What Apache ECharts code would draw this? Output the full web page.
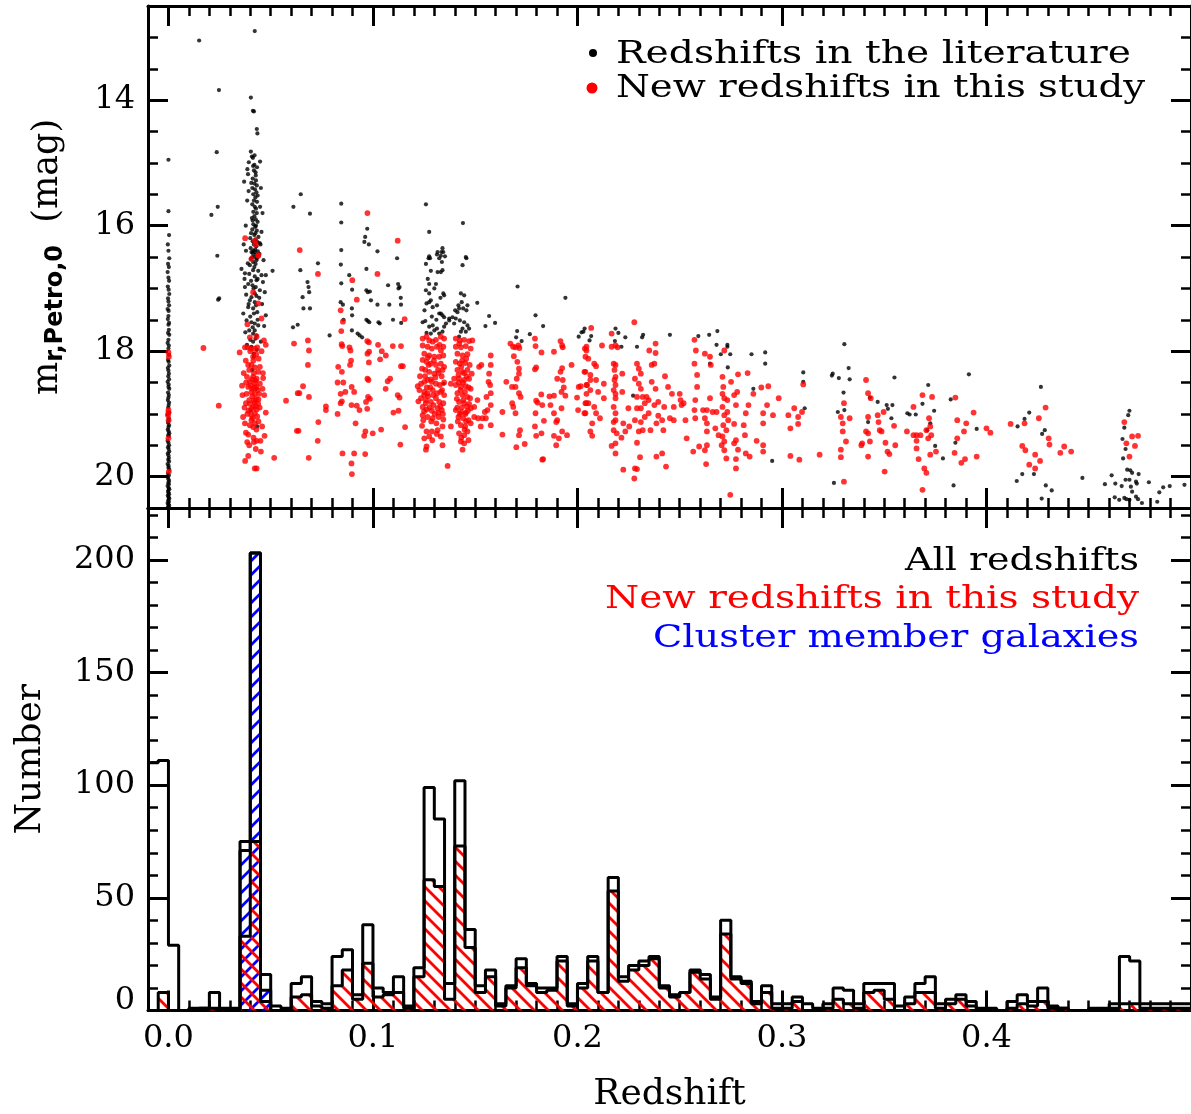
<!DOCTYPE html>
<html><head><meta charset="utf-8">
<script src="https://cdn.jsdelivr.net/npm/echarts@6/dist/echarts.min.js"></script>
<style>html,body{margin:0;padding:0;background:#fff}#c{width:1191px;height:1114px}</style>
</head><body><div id="c"></div>
<script>
// ---------------- DATA ----------------
// Histogram: bins of width 0.005 starting at z = -0.01
const binStart = -0.01, binWidth = 0.005;
const allCounts = [110,111,29,0,1,1,8,1,1,75,203,16,2,1,12,15,4,3,24,27,7,38,10,8,15,2,19,99,85,12,102,36,11,18,3,11,23,12,10,10,24,3,12,24,8,59,15,20,22,24,11,7,8,18,16,6,40,15,13,4,11,3,3,6,3,1,3,10,9,3,12,12,12,2,6,12,15,3,5,7,4,1,1,0,4,7,4,10,2,1,0,0,1,1,3,24,22,3,3,3,3,3];
const newCounts = [0,8,0,0,0,1,1,0,0,33,75,4,0,0,6,7,2,1,11,18,5,21,6,7,8,1,15,58,55,5,73,28,8,15,2,10,19,11,8,9,22,2,10,22,8,53,13,18,20,23,10,6,8,17,14,5,34,14,12,3,8,1,1,4,0,0,1,5,3,1,8,9,5,0,3,8,8,1,3,5,2,0,0,0,1,3,2,4,1,1,0,0,0,0,1,3,3,1,1,1,1,1];
const memberCounts = [0,0,0,0,0,0,0,0,0,71,203,9,0,0,0,0,0,0,0,0,0,0,0,0,0,0,0,0,0,0,0,0,0,0,0,0,0,0,0,0,0,0,0,0,0,0,0,0,0,0,0,0,0,0,0,0,0,0,0,0,0,0,0,0,0,0,0,0,0,0,0,0,0,0,0,0,0,0,0,0,0,0,0,0,0,0,0,0,0,0,0,0,0,0,0,0,0,0,0,0,0,0];

// Tick values / labels
const zMajor = [0, 0.1, 0.2, 0.3, 0.4];
const magMajor = [14, 16, 18, 20];
const numMajor = [0, 50, 100, 150, 200];

// Scatter: [redshift, magnitude]; literature (black)
const litStars = [[0.0000,14.95],[0.0000,15.77],[0.0003,16.15],[-0.0003,16.3],[0.0000,16.40],[0.0004,16.52],[-0.0002,16.61],[0.0002,16.66],[-0.0004,16.74],[0.0000,16.83],[0.0003,16.88],[-0.0003,16.97],[0.0001,17.02],[0.0004,17.09],[-0.0002,17.16],[0.0000,17.21],[0.0003,17.27],[-0.0004,17.33],[0.0001,17.36],[0.0000,17.44],[-0.0003,17.49],[0.0003,17.55],[0.0000,17.58],[0.0002,17.66],[-0.0002,17.71],[0.0004,17.74],[0.0000,17.82],[-0.0004,17.87],[0.0002,17.91],[0.0000,17.96],[0.0003,18.06],[-0.0002,18.14],[0.0001,18.17],[0.0004,18.23],[-0.0003,18.27],[0.0000,18.31],[0.0002,18.36],[-0.0001,18.4],[0.0003,18.45],[-0.0004,18.49],[0.0001,18.53],[0.0000,18.57],[0.0004,18.6],[-0.0002,18.66],[0.0002,18.7],[0.0000,18.74],[-0.0003,18.78],[0.0003,18.82],[0.0001,18.86],[-0.0001,18.9],[0.0004,18.98],[-0.0004,19.01],[0.0002,19.07],[0.0000,19.11],[-0.0002,19.14],[0.0003,19.18],[0.0000,19.21],[-0.0003,19.25],[0.0001,19.28],[0.0004,19.31],[-0.0001,19.34],[0.0002,19.36],[-0.0004,19.43],[0.0000,19.46],[0.0003,19.5],[-0.0002,19.53],[0.0001,19.56],[0.0004,19.6],[-0.0003,19.63],[0.0000,19.66],[0.0002,19.7],[-0.0001,19.73],[0.0003,19.76],[-0.0004,19.8],[0.0001,19.83],[0.0000,19.86],[0.0004,19.89],[-0.0002,19.95],[0.0002,19.98],[-0.0003,20.01],[0.0000,20.04],[0.0003,20.07],[-0.0001,20.1],[0.0002,20.12],[-0.0004,20.15],[0.0001,20.18],[0.0004,20.2],[-0.0002,20.23],[0.0000,20.25],[0.0003,20.28],[-0.0003,20.3],[0.0001,20.33],[0.0004,20.35],[-0.0001,20.38],[0.0002,20.4],[-0.0004,20.42],[0.0000,20.44],[0.0003,20.46],[-0.0002,20.48],[0.0001,20.49]];
const litLow = [[0.0150,13.05],[0.0247,13.84],[0.0236,14.83],[0.0241,15.7],[0.0210,15.83],[0.0239,16.48],[0.0243,17.18],[0.0248,17.16],
[0.0422,12.9],[0.0403,13.96],[0.0413,14.17],[0.0418,14.18],[0.0432,14.46],[0.0435,14.53],[0.0403,14.82],[0.0408,14.9],[0.0413,14.92],[0.0421,14.88],[0.0393,14.99],[0.0420,15.03],[0.0433,15.07],[0.0448,14.98],[0.0386,15.1],[0.0389,15.18],[0.0418,15.12],[0.0426,15.15],[0.0412,15.25],[0.0428,15.28],[0.0420,15.33],[0.0432,15.36],[0.0410,15.4],[0.0423,15.42],[0.0430,15.47],[0.0415,15.5],[0.0425,15.55],[0.0418,15.6],[0.0433,15.62],[0.0410,15.66],[0.0422,15.7],[0.0428,15.73],[0.0415,15.78],[0.0432,15.8],[0.0420,15.85],[0.0408,15.88],[0.0427,15.9],[0.0436,15.94],[0.0415,15.98],[0.0424,16.02],[0.0410,16.06],[0.0432,16.08],[0.0404,16.12],[0.0420,16.15],[0.0440,16.18],[0.0426,16.22],[0.0412,16.25],[0.0446,16.28],[0.0418,16.3],[0.0430,16.33],[0.0402,16.36],[0.0424,16.38],[0.0437,16.41],[0.0412,16.44],[0.0428,16.46],[0.0418,16.5],[0.0433,16.52],[0.0445,16.45],
[0.0414,15.05],[0.0427,15.2],[0.0405,15.32],[0.0436,15.52],[0.0412,15.92],[0.0428,16.0],[0.0400,16.2],[0.0434,16.26],[0.0415,16.4],[0.0425,16.12],
[0.0370,15.3],[0.0385,15.6],[0.0452,15.4],[0.0460,15.8],[0.0378,16.0],[0.0455,16.1],[0.0368,16.3],[0.0465,16.55],[0.0372,16.85],[0.0462,16.9],[0.0380,17.1],[0.0458,17.25],[0.0366,17.4],[0.0468,17.6],[0.0384,17.9],[0.0452,17.85],[0.0392,15.45],[0.0448,15.7],[0.0388,16.6],[0.0450,16.3],[0.0376,17.7],[0.0444,17.15],
[0.0379,16.4],[0.0406,16.42],[0.0422,16.42],[0.0434,16.48],[0.0403,16.53],[0.0414,16.58],[0.0426,16.61],[0.0357,16.69],[0.0374,16.76],[0.0395,16.77],[0.0414,16.71],[0.0439,16.72],[0.0422,16.81],[0.0455,16.79],[0.0476,16.79],[0.0431,16.87],[0.0390,16.93],[0.0411,16.95],[0.0427,16.98],[0.0374,16.98],[0.0447,17.03],[0.0471,17.06],[0.0422,17.08],[0.0398,17.19],[0.0422,17.22],[0.0390,17.3],[0.0414,17.32],[0.0434,17.38],[0.0476,17.43],[0.0382,17.51],[0.0406,17.54],[0.0422,17.56],[0.0439,17.59],[0.0422,17.67],[0.0395,17.67],[0.0414,17.72],[0.0431,17.75],[0.0414,17.85],[0.0406,17.93],[0.0418,18.04],[0.0418,18.09],
[0.0410,16.5],[0.0430,16.55],[0.0398,16.63],[0.0420,16.66],[0.0436,16.85],[0.0404,16.88],[0.0416,17.0],[0.0430,17.12],[0.0406,17.14],[0.0392,17.25],[0.0428,17.27],[0.0418,17.4],[0.0400,17.45],[0.0436,17.5],[0.0412,17.62],[0.0426,17.8],[0.0400,17.82],[0.0432,17.98],[0.0410,18.3],[0.0428,18.6],[0.0402,18.95],[0.0434,19.2],
[0.0647,15.5],[0.0611,15.7],[0.0692,15.81],[0.0645,16.71],[0.0509,16.72],[0.0656,17.14],[0.0660,17.32],[0.0692,17.32],[0.0680,16.9],[0.0685,16.98],[0.0688,17.06],[0.0731,16.6],[0.0609,17.62],[0.0632,17.58]];
const litMid = [[0.0845,15.65],[0.0845,15.95],[0.0845,16.39],[0.0972,16.05],[0.0962,16.18],[0.0958,16.26],[0.0980,16.3],[0.1022,16.41],[0.1118,16.52],[0.0788,17.75],[0.0843,16.62],[0.0845,16.92],[0.0842,17.22],[0.0853,17.26],[0.0856,17.5],[0.0884,16.79],[0.0898,17.02],[0.0897,17.32],[0.0898,17.43],[0.0897,17.67],[0.0925,17.72],[0.0935,17.75],[0.0947,17.78],[0.0968,16.69],[0.0968,17.03],[0.0975,17.06],[0.0985,17.05],[0.0990,17.19],[0.0968,17.5],[0.0982,17.54],[0.0975,17.52],[0.1022,17.26],[0.1027,17.54],[0.1033,17.56],[0.1074,16.95],[0.1080,17.26],[0.1098,17.5],[0.1123,16.93],[0.1130,16.98],[0.1125,17.0],[0.1136,17.15],[0.1137,17.26],[0.1138,17.55],
[0.1259,15.66],[0.1275,16.1],[0.1313,16.46],[0.1324,16.52],[0.1335,16.42],[0.1340,16.36],[0.1352,16.49],[0.1275,16.49],[0.1272,16.52],[0.1279,16.52],[0.1316,16.42],[0.1332,16.48],[0.1337,16.58],[0.1344,16.42],[0.1259,16.61],[0.1283,16.72],[0.1308,16.93],[0.1316,16.74],[0.1332,16.74],[0.1340,16.71],[0.1275,16.93],[0.1259,17.03],[0.1275,17.08],[0.1262,17.24],[0.1275,17.22],[0.1283,17.19],[0.1292,17.3],[0.1313,17.27],[0.1324,17.4],[0.1340,17.43],[0.1348,17.46],[0.1243,17.54],[0.1256,17.52],[0.1275,17.61],[0.1292,17.59],[0.1313,17.64],[0.1324,17.72],[0.1340,17.69],[0.1348,17.61],[0.1357,17.56],[0.1300,17.67],[0.1262,17.71],[0.1283,17.72],[0.1344,17.08],[0.1348,17.11],[0.1332,17.4],[0.1373,17.48],[0.1389,17.46],[0.1345,18.52],[0.1268,16.85],[0.1300,17.0],[0.1288,17.45],[0.1330,17.15],[0.1252,17.35],[0.1310,17.5],
[0.1440,15.96],[0.1457,16.52],[0.1438,16.63],[0.1454,16.5],[0.1430,17.08],[0.1446,17.11],[0.1434,17.22],[0.1418,17.27],[0.1402,17.35],[0.1413,17.38],[0.1421,17.32],[0.1441,17.32],[0.1457,17.35],[0.1462,17.27],[0.1405,17.48],[0.1425,17.51],[0.1446,17.54],[0.1462,17.59],[0.1470,17.64],[0.1438,17.64],[0.1430,17.69],[0.1454,17.69],[0.1421,17.77],[0.1397,17.56],[0.1373,17.51],[0.1510,17.23],[0.1568,17.44],[0.1550,17.6],[0.1597,17.55],
[0.1707,16.97],[0.1705,17.68],[0.1700,17.78],[0.1727,17.84],[0.1767,17.73],[0.1795,17.43],[0.1832,17.6],[0.1941,17.15],[0.2020,17.7],[0.2035,17.64]];
const litHigh = [[0.2006,17.77],[0.2029,17.69],[0.2059,17.83],[0.2067,17.76],[0.2186,17.64],[0.2200,17.71],[0.2183,17.84],[0.2215,17.93],[0.2234,17.78],[0.2291,17.93],[0.2316,17.78],[0.2321,17.74],[0.2452,17.74],[0.2272,18.71],[0.2591,17.76],[0.2644,17.74],[0.2684,17.68],[0.2680,17.9],[0.2733,17.9],[0.2733,17.93],[0.2701,18.05],[0.2747,18.05],[0.2648,18.2],[0.2735,18.26],[0.2851,18.05],[0.2918,18.02],[0.2918,18.2],[0.2860,18.6],[0.2952,19.75],[0.3104,18.34],[0.3104,18.49],[0.3111,18.91],[0.3305,17.89],[0.3248,18.36],[0.3244,18.39],[0.3278,18.43],[0.3326,18.27],[0.3331,18.45],[0.3301,18.66],[0.3305,18.94],[0.3273,18.97],[0.3254,20.1],[0.3430,18.74],[0.3468,18.81],[0.3512,18.86],[0.3518,18.92],[0.3421,19.13],[0.3535,19.07],[0.3540,18.86],[0.3550,18.42],[0.3613,18.99],[0.3624,19.01],[0.3654,19.01],[0.3687,18.84],[0.3715,18.54],[0.3725,19.15],[0.3710,19.26],[0.3744,18.95],[0.3749,19.51],[0.3787,19.71],[0.3825,18.77],[0.3839,20.14],[0.3848,19.46],[0.3914,18.37],[0.3952,19.24],[0.4148,20.07],[0.4152,19.2],[0.4186,19.08],[0.4209,18.98],[0.4175,19.96],[0.4232,19.96],[0.4266,18.57],[0.4272,19.32],[0.4285,19.26],[0.4270,20.35],[0.4290,20.14],[0.4319,20.22],[0.4469,20.02],[0.4579,20.12],[0.4612,19.98],[0.4630,20.11],[0.4665,19.4],[0.4680,19.56],[0.4674,19.22],[0.4693,19.02],[0.4699,18.95],[0.4668,19.71],[0.4688,19.89],[0.4703,19.9],[0.4712,19.94],[0.4744,19.96],[0.4680,20.05],[0.4699,20.05],[0.4731,20.08],[0.4661,20.15],[0.4706,20.16],[0.4735,20.11],[0.4712,20.24],[0.4731,20.32],[0.4741,20.36],[0.4760,20.42],[0.4649,20.37],[0.4674,20.34],[0.4684,20.36],[0.4699,20.37],[0.4794,20.09],[0.4835,20.4],[0.4845,20.25],[0.4864,20.17],[0.4896,20.15],[0.4968,20.13],[0.4627,20.33]];

// New redshifts (red)
const newLow = [[0.0000,18.02],[0.0002,18.09],[0.0000,18.94],[-0.0002,19.02],[0.0001,19.1],[0.0000,19.39],[0.0002,19.92],[0.0000,18.98],[0.0171,17.95],[0.0246,18.87],
[0.0406,16.53],[0.0439,16.48],[0.0414,17.06],[0.0439,17.24],[0.0455,17.48],[0.0386,17.57],[0.0398,17.78],[0.0431,17.77],[0.0467,17.83],[0.0476,17.9],[0.0374,17.94],[0.0386,17.94],[0.0403,17.96],[0.0422,17.96],[0.0434,17.94],[0.0414,18.09],[0.0390,18.22],[0.0406,18.22],[0.0422,18.26],[0.0447,18.25],[0.0439,18.33],[0.0384,18.41],[0.0414,18.41],[0.0431,18.44],[0.0463,18.43],[0.0398,18.49],[0.0422,18.51],[0.0447,18.52],[0.0390,18.57],[0.0411,18.6],[0.0431,18.57],[0.0362,18.7],[0.0382,18.68],[0.0406,18.65],[0.0422,18.68],[0.0443,18.68],[0.0379,18.83],[0.0398,18.84],[0.0422,18.82],[0.0439,18.84],[0.0414,18.89],[0.0431,18.93],[0.0476,18.98],[0.0406,19.02],[0.0422,18.99],[0.0374,19.15],[0.0406,19.1],[0.0422,19.15],[0.0414,19.21],[0.0390,19.33],[0.0379,19.3],[0.0431,19.43],[0.0450,19.43],[0.0427,19.56],[0.0390,19.67],[0.0422,19.87],[0.0431,19.87],
[0.0395,18.3],[0.0418,18.35],[0.0426,18.47],[0.0402,18.55],[0.0436,18.62],[0.0410,18.72],[0.0428,18.76],[0.0395,18.78],[0.0418,18.79],[0.0440,18.77],[0.0404,18.92],[0.0426,18.88],[0.0392,18.95],[0.0434,19.04],[0.0412,19.07],[0.0398,19.18],[0.0430,19.25],[0.0416,19.38],[0.0440,19.12],[0.0386,19.0],[0.0420,18.58],[0.0408,18.45],[0.0446,18.9],[0.0380,18.5],[0.0415,18.15],[0.0429,18.05],[0.0400,18.0],[0.0441,18.12],[0.0395,19.5],[0.0418,19.45],
[0.0368,18.35],[0.0460,18.6],[0.0372,18.9],[0.0468,18.7],[0.0365,19.05],[0.0458,19.2],[0.0378,18.15],[0.0455,18.0],[0.0470,19.35],[0.0360,18.55],[0.0462,18.35],[0.0385,19.45],[0.0452,19.6],[0.0375,19.75],
[0.0375,16.2],[0.0423,16.24],[0.0427,16.3],[0.0440,16.47],
[0.0517,19.7],[0.0348,18.02],[0.0614,17.88],[0.0731,16.77],[0.0682,17.83],[0.0687,17.99],[0.0682,18.22],[0.0658,18.56],[0.0632,18.67],[0.0640,18.67],[0.0687,18.73],[0.0575,18.79],[0.0628,19.27],[0.0636,19.27],[0.0686,19.7],[0.0733,19.13],[0.0730,19.43],[0.0770,18.88],[0.0770,18.94],[0.0827,19.0],[0.0642,16.39]];
const newMid = [[0.0973,15.8],[0.1121,16.24],[0.0842,17.35],[0.0853,17.53],[0.0845,17.68],[0.0899,16.87],[0.0921,17.18],[0.0847,17.89],[0.0850,17.92],[0.0885,17.94],[0.0890,17.99],[0.0893,18.15],[0.0888,18.22],[0.0830,18.25],[0.0848,18.33],[0.0855,18.5],[0.0865,18.65],[0.0842,18.68],[0.0896,18.57],[0.0908,18.65],[0.0842,18.83],[0.0848,18.8],[0.0895,18.86],[0.0921,18.87],[0.0934,18.94],[0.0966,18.81],[0.0976,18.73],[0.0985,18.76],[0.0915,19.15],[0.0851,19.63],[0.0908,19.63],[0.0895,19.79],[0.0897,19.96],[0.0962,19.64],[0.0963,19.28],[0.0957,19.35],[0.0972,18.92],[0.0973,18.44],[0.0978,18.46],[0.0980,18.18],[0.0973,18.04],[0.0981,18.01],[0.0972,17.84],[0.0980,17.86],[0.1022,16.77],[0.1025,17.9],[0.1035,18.13],[0.1043,18.0],[0.1063,18.07],[0.1072,18.48],[0.1084,18.44],[0.1062,18.6],[0.1040,19.25],[0.0999,19.31],[0.1097,17.92],[0.1100,18.98],[0.1125,18.95],[0.1121,18.7],[0.1130,18.74],[0.1134,19.49],[0.1137,17.92],[0.1146,18.24],[0.1137,18.24],[0.1155,17.49],[0.1157,19.21],[0.0827,18.5],
[0.1243,17.8],[0.1262,17.77],[0.1275,17.83],[0.1292,17.85],[0.1308,17.82],[0.1332,17.77],[0.1348,17.8],[0.1243,17.91],[0.1267,17.93],[0.1288,17.96],[0.1313,17.93],[0.1332,17.99],[0.1344,17.93],[0.1251,18.04],[0.1275,18.07],[0.1300,18.09],[0.1324,18.09],[0.1344,18.07],[0.1243,18.14],[0.1262,18.17],[0.1283,18.2],[0.1308,18.22],[0.1332,18.2],[0.1348,18.25],[0.1240,18.28],[0.1256,18.3],[0.1275,18.33],[0.1300,18.36],[0.1321,18.35],[0.1340,18.3],[0.1219,18.56],[0.1235,18.52],[0.1251,18.49],[0.1267,18.46],[0.1288,18.49],[0.1308,18.52],[0.1327,18.54],[0.1348,18.5],[0.1227,18.62],[0.1251,18.65],[0.1267,18.67],[0.1292,18.62],[0.1313,18.67],[0.1332,18.65],[0.1348,18.7],[0.1235,18.75],[0.1259,18.78],[0.1283,18.81],[0.1308,18.75],[0.1324,18.81],[0.1344,18.83],[0.1243,18.89],[0.1262,18.93],[0.1288,18.95],[0.1316,18.91],[0.1337,18.94],[0.1243,19.02],[0.1267,19.05],[0.1292,19.07],[0.1321,19.05],[0.1344,19.09],[0.1240,19.19],[0.1262,19.28],[0.1288,19.28],[0.1316,19.26],[0.1340,19.2],[0.1251,19.39],[0.1275,19.36],[0.1332,19.36],[0.1262,19.52],[0.1259,19.57],[0.1340,19.5],[0.1381,19.2],[0.1365,19.83],[0.1381,18.52],
[0.1255,18.4],[0.1280,18.58],[0.1305,18.42],[0.1270,18.72],[0.1296,18.86],[0.1320,18.98],[0.1250,18.7],[0.1285,19.12],[0.1310,19.15],[0.1336,18.4],[0.1230,18.4],[0.1272,18.22],[0.1318,18.3],[0.1295,18.7],[0.1263,18.58],[0.1330,18.88],[0.1250,18.96],[0.1282,18.45],[0.1302,19.0],[0.1338,18.62],[0.1246,19.1],[0.1290,19.42],[0.1312,19.32],[0.1268,18.1],[0.1326,17.9],[0.1277,18.9],[0.1298,18.15],[0.1258,18.83],[0.1342,19.0],[0.1222,18.8],
[0.1405,17.8],[0.1425,17.83],[0.1446,17.82],[0.1470,17.84],[0.1486,17.83],[0.1405,17.93],[0.1430,17.94],[0.1454,17.92],[0.1478,17.96],[0.1413,18.04],[0.1438,18.07],[0.1462,18.05],[0.1405,18.17],[0.1425,18.2],[0.1451,18.19],[0.1473,18.22],[0.1413,18.3],[0.1438,18.33],[0.1462,18.3],[0.1483,18.36],[0.1397,18.44],[0.1421,18.44],[0.1446,18.46],[0.1470,18.44],[0.1405,18.54],[0.1430,18.57],[0.1454,18.56],[0.1478,18.6],[0.1413,18.67],[0.1438,18.7],[0.1462,18.73],[0.1421,18.81],[0.1446,18.83],[0.1470,18.84],[0.1405,18.94],[0.1430,18.97],[0.1454,18.98],[0.1478,18.91],[0.1418,19.05],[0.1441,19.07],[0.1467,19.1],[0.1430,19.18],[0.1451,19.2],[0.1478,19.15],[0.1421,19.31],[0.1446,19.34],[0.1462,19.28],[0.1430,19.44],[0.1446,19.47],[0.1438,19.57],[0.1467,19.42],[0.1495,18.89],[0.1495,19.05],
[0.1418,18.38],[0.1440,18.5],[0.1458,18.4],[0.1428,18.62],[0.1450,18.65],[0.1435,18.9],[0.1460,18.88],[0.1415,19.12],[0.1452,19.0],[0.1432,18.25],[0.1456,18.12],[0.1410,18.76],[0.1442,18.78],[0.1468,18.58],[0.1425,19.0],[0.1448,19.25],[0.1436,18.15],[0.1464,18.95],[0.1420,18.5],[0.1445,18.35],[0.1412,18.9],[0.1475,18.75],[0.1432,19.38],[0.1455,19.12],[0.1422,17.88],
[0.1519,18.25],[0.1530,18.22],[0.1576,18.07],[0.1576,18.22],[0.1568,18.36],[0.1565,18.49],[0.1573,18.54],[0.1555,18.73],[0.1576,18.67],[0.1576,18.86],[0.1560,18.94],[0.1511,18.78],[0.1514,19.07],[0.1527,19.2],[0.1576,19.18],[0.1547,18.97],[0.1552,19.07],[0.1535,19.07],[0.1633,18.97],[0.1652,18.49],[0.1633,19.33],
[0.1672,17.88],[0.1685,17.93],[0.1697,17.94],[0.1711,17.91],[0.1716,17.95],[0.1689,18.08],[0.1706,18.17],[0.1714,18.28],[0.1703,18.44],[0.1697,18.57],[0.1714,18.67],[0.1722,18.73],[0.1681,18.83],[0.1686,18.89],[0.1697,18.99],[0.1719,19.26],[0.1714,19.34],[0.1701,19.53],[0.1742,19.48],[0.1680,18.57],[0.1714,18.36],
[0.1792,17.8],[0.1795,17.92],[0.1824,18.02],[0.1885,18.01],[0.1917,17.84],[0.1925,17.91],[0.1928,17.94],[0.1792,18.29],[0.1798,18.26],[0.1901,18.44],[0.1925,18.27],[0.1917,18.33],[0.1928,18.46],[0.1933,18.58],[0.1922,18.65],[0.1885,18.71],[0.1941,18.71],[0.1863,18.72],[0.1823,18.69],[0.1798,18.79],[0.1805,18.82],[0.1828,18.86],[0.1795,18.99],[0.1885,18.99],[0.1896,19.13],[0.1922,18.91],[0.1901,19.1],[0.1792,19.2],[0.1824,19.31],[0.1836,19.11],[0.1885,19.35],[0.1909,19.39],[0.1896,19.5],[0.1949,19.34],[0.1868,18.86],[0.1925,19.28],[0.1798,19.35],[0.1828,19.73],[0.1832,19.72],
[0.1971,18.22],[0.1998,18.74],[0.2006,18.57],[0.2003,18.94],[0.2036,17.96],[0.2039,18.09],[0.2039,18.33],[0.2047,18.54],[0.2044,18.68],[0.2039,18.83],[0.2039,18.99]];
const newHigh = [[0.2067,17.63],[0.2044,17.93],[0.2044,17.99],[0.2053,18.12],[0.2082,18.2],[0.2091,18.24],[0.2034,18.33],[0.2063,18.38],[0.2063,18.46],[0.2091,18.46],[0.2016,18.56],[0.2044,18.54],[0.2063,18.62],[0.2101,18.65],[0.2129,18.52],[0.2129,18.75],[0.2082,18.89],[0.2044,18.83],[0.2053,18.83],[0.2091,18.99],[0.2034,18.99],[0.2072,19.15],[0.2063,19.28],[0.2072,19.35],[0.2110,19.07],[0.2120,17.91],[0.2167,17.72],[0.2167,17.93],[0.2186,17.91],[0.2196,17.94],[0.2177,18.2],[0.2186,18.22],[0.2181,18.3],[0.2186,18.41],[0.2181,18.46],[0.2186,18.54],[0.2177,18.62],[0.2186,18.68],[0.2186,18.75],[0.2177,18.89],[0.2186,18.99],[0.2186,19.1],[0.2177,19.26],[0.2192,19.31],[0.2177,19.13],[0.2167,19.51],[0.2186,19.47],[0.2186,19.63],[0.2219,18.36],[0.2219,18.65],[0.2224,19.15],[0.2234,19.28],[0.2215,19.38],[0.2224,19.89],[0.2249,18.91],[0.2253,19.2],[0.2278,17.54],[0.2281,18.44],[0.2291,18.2],[0.2300,18.28],[0.2310,18.36],[0.2300,18.52],[0.2310,18.6],[0.2291,18.73],[0.2319,18.73],[0.2338,18.73],[0.2348,18.78],[0.2329,18.83],[0.2310,18.91],[0.2291,18.91],[0.2281,19.1],[0.2310,19.13],[0.2329,19.05],[0.2348,18.99],[0.2300,19.28],[0.2319,19.26],[0.2357,19.26],[0.2291,19.46],[0.2306,19.69],[0.2281,19.87],[0.2291,19.88],[0.2278,20.03],[0.2351,17.99],[0.2363,18.22],[0.2376,18.2],[0.2382,18.03],[0.2382,17.88],[0.2363,18.49],[0.2382,18.6],[0.2395,18.81],[0.2376,18.86],[0.2395,19.03],[0.2386,19.15],[0.2414,19.1],[0.2424,18.89],[0.2420,19.26],[0.2386,19.68],[0.2433,19.84],[0.2414,19.63],[0.2428,18.4],[0.2443,18.57],[0.2462,18.68],[0.2471,18.89],[0.2452,19.07],[0.2471,19.1],[0.2500,18.68],[0.2504,18.78],[0.2509,18.86],[0.2519,18.83],[0.2528,19.1],[0.2534,19.39],[0.2572,17.82],[0.2579,17.99],[0.2572,18.2],[0.2585,18.38],[0.2585,18.57],[0.2576,18.78],[0.2572,18.94],[0.2576,19.07],[0.2566,19.6],[0.2595,19.52],[0.2629,19.8],[0.2623,18.04],[0.2648,18.09],[0.2652,18.22],[0.2648,18.75],[0.2633,18.94],[0.2614,18.94],[0.2623,19.07],[0.2633,19.15],[0.2633,19.28],[0.2633,19.5],[0.2623,19.58],[0.2661,18.97],[0.2680,18.97],[0.2674,19.23],[0.2690,19.34],[0.2709,18.41],[0.2718,17.99],[0.2713,18.57],[0.2709,18.68],[0.2718,18.75],[0.2709,18.89],[0.2718,19.02],[0.2713,19.18],[0.2709,19.36],[0.2718,19.44],[0.2705,19.5],[0.2718,19.58],[0.2728,19.71],[0.2747,20.29],[0.2733,18.78],[0.2733,18.97],[0.2737,19.1],[0.2728,19.26],[0.2751,18.49],[0.2766,18.7],[0.2775,18.86],[0.2766,19.16],[0.2775,19.42],[0.2766,19.47],[0.2785,19.57],[0.2775,19.72],[0.2775,19.87],[0.2785,18.37],[0.2781,18.65],[0.2832,18.35],[0.2823,18.99],[0.2813,19.18],[0.2819,19.34],[0.2823,19.63],[0.2842,19.68],[0.2836,18.86],[0.2860,18.68],[0.2876,19.43],[0.2899,18.58],[0.2908,18.99],[0.2908,19.15],[0.2908,19.5],[0.2908,19.6],[0.2927,18.86],[0.2933,18.56],[0.2956,19.02],[0.2984,18.75],[0.3031,19.02],[0.3041,19.23],[0.3060,18.91],[0.3079,19.05],[0.3079,19.16],[0.3085,19.73],[0.3041,19.67],[0.3098,18.97],[0.3104,18.53],[0.3184,19.65],[0.3288,19.05],[0.3297,19.15],[0.3297,19.28],[0.3303,18.83],[0.3313,19.44],[0.3288,19.57],[0.3288,19.69],[0.3303,20.08],[0.3331,19.07],[0.3411,18.46],[0.3421,18.67],[0.3434,18.75],[0.3421,19.05],[0.3411,19.28],[0.3421,19.31],[0.3430,19.44],[0.3388,19.5],[0.3392,19.47],[0.3421,19.68],[0.3468,19.02],[0.3472,19.13],[0.3478,19.26],[0.3487,19.28],[0.3497,18.97],[0.3506,19.46],[0.3516,19.6],[0.3525,19.64],[0.3502,19.92],[0.3548,19.19],[0.3554,19.5],[0.3611,19.28],[0.3643,18.89],[0.3643,19.34],[0.3658,19.34],[0.3677,19.34],[0.3687,18.7],[0.3658,19.43],[0.3658,19.55],[0.3668,19.72],[0.3696,19.87],[0.3706,19.94],[0.3687,20.21],[0.3706,19.26],[0.3719,19.07],[0.3725,19.2],[0.3730,19.34],[0.3734,18.73],[0.3725,19.65],[0.3715,19.39],[0.3753,19.6],[0.3848,18.74],[0.3857,19.1],[0.3857,19.39],[0.3844,19.62],[0.3877,19.78],[0.3890,19.28],[0.3901,19.15],[0.3895,19.72],[0.3937,18.98],[0.3952,19.68],[0.4000,19.23],[0.4019,19.3],[0.4118,19.16],[0.4186,19.15],[0.4175,19.51],[0.4190,19.58],[0.4209,19.81],[0.4238,19.87],[0.4238,19.65],[0.4262,19.75],[0.4256,19.07],[0.4289,18.9],[0.4304,19.39],[0.4308,19.49],[0.4361,19.62],[0.4380,19.52],[0.4414,19.6],[0.4674,19.13],[0.4684,19.47],[0.4712,19.36],[0.4741,19.35],[0.4726,19.51],[0.4699,19.68]];

// ---------------- RENDER ----------------
const FONT = 'DejaVu Serif';
const Z_MIN = -0.01, Z_MAX = 0.5;
const G_TOP = {left:148, top:6, width:1046, height:502};
const G_BOT = {left:148, top:508, width:1046, height:502.5};

function range(a, b, s) { const r = []; const n = Math.round((b - a) / s); for (let i = 0; i <= n; i++) r.push(+(a + i * s).toFixed(4)); return r; }
const zMinor = range(-0.01, 0.5, 0.01);
const magMinor = range(12.5, 20.5, 0.5);
const numMinor = range(0, 220, 10);

function hatch(color, dir) {
  const P = 14, c = document.createElement('canvas');
  c.width = P; c.height = P;
  const g = c.getContext('2d');
  g.strokeStyle = color; g.lineWidth = 2.8; g.lineCap = 'square';
  for (const o of [-P, 0, P]) {
    g.beginPath();
    if (dir === '\\') { g.moveTo(o, 0); g.lineTo(o + P, P); }
    else { g.moveTo(o, P); g.lineTo(o + P, 0); }
    g.stroke();
  }
  return {image: c, repeat: 'repeat'};
}

function stepData(counts) {
  const d = counts.map((v, i) => [binStart + i * binWidth, v]);
  d.push([binStart + counts.length * binWidth, counts[counts.length - 1]]);
  return d;
}

const labelStyle = {fontFamily: FONT, fontSize: 32, color: '#000'};

function ax(type, gridIndex, position, min, max, ticks, len, opts) {
  opts = opts || {};
  const a = {
    type: 'value', gridIndex, position, min, max,
    inverse: !!opts.inverse,
    axisLine: {show: !!opts.line, onZero: false, lineStyle: {color: '#000', width: 3}},
    axisTick: {show: true, inside: true, length: len, customValues: ticks, lineStyle: {color: '#000', width: len > 12 ? 3 : 2.5}},
    axisLabel: Object.assign({show: !!opts.labels, customValues: ticks, margin: opts.margin || 12}, labelStyle, opts.labelExtra || {}),
    splitLine: {show: false}, minorTick: {show: false}, minorSplitLine: {show: false}
  };
  if (opts.name) {
    a.name = opts.name; a.nameLocation = 'middle'; a.nameGap = opts.nameGap;
    a.nameTextStyle = Object.assign({fontFamily: FONT, fontSize: 36, color: '#000'}, opts.nameStyle || {});
  }
  return a;
}

const xAxis = [
  ax('x', 0, 'bottom', Z_MIN, Z_MAX, zMajor, 20, {line: true}),
  ax('x', 0, 'top', Z_MIN, Z_MAX, zMajor, 20, {line: true}),
  ax('x', 1, 'bottom', Z_MIN, Z_MAX, zMinor, 10, {}),
  ax('x', 1, 'top', Z_MIN, Z_MAX, zMinor, 10, {}),
  ax('x', 2, 'bottom', Z_MIN, Z_MAX, zMajor, 20, {line: true, labels: true, margin: 12,
     labelExtra: {formatter: v => v.toFixed(1)}, name: 'Redshift', nameGap: 66}),
  ax('x', 2, 'top', Z_MIN, Z_MAX, zMajor, 20, {line: true}),
  ax('x', 3, 'bottom', Z_MIN, Z_MAX, zMinor, 10, {}),
  ax('x', 3, 'top', Z_MIN, Z_MAX, zMinor, 10, {})
];
const yAxis = [
  ax('y', 0, 'left', 12.5, 20.5, magMajor, 20, {line: true, labels: true, inverse: true, margin: 13,
     name: '{m|m}{s|r,Petro,0}{m|  (mag)}', nameGap: 80,
     nameStyle: {rich: {m: {fontFamily: FONT, fontSize: 35, lineHeight: 40, color: '#000'},
                        s: {fontFamily: 'DejaVu Sans', fontWeight: 'bold', fontSize: 24, lineHeight: 24, color: '#000', verticalAlign: 'bottom', padding: [16, 0, 0, 0]}}}}),
  ax('y', 0, 'right', 12.5, 20.5, magMajor, 20, {line: true, inverse: true}),
  ax('y', 1, 'left', 12.5, 20.5, magMinor, 10, {inverse: true}),
  ax('y', 1, 'right', 12.5, 20.5, magMinor, 10, {inverse: true}),
  ax('y', 2, 'left', 0, 223, numMajor, 20, {line: true, labels: true, margin: 13,
     labelExtra: {formatter: v => v === 0 ? '{z|0}' : String(v), rich: {z: {fontFamily: FONT, fontSize: 32, color: '#000', padding: [0, 0, 20, 0]}}},
     name: 'Number', nameGap: 99}),
  ax('y', 2, 'right', 0, 223, numMajor, 20, {line: true}),
  ax('y', 3, 'left', 0, 223, numMinor, 10, {}),
  ax('y', 3, 'right', 0, 223, numMinor, 10, {})
];

const lit = litStars.concat(litLow, litMid, litHigh);
const nw = newLow.concat(newMid, newHigh);

function legendText(text, x, y, color, align, targetW) {
  const font = '32px "' + FONT + '"';
  const m = document.createElement('canvas').getContext('2d');
  m.font = font;
  const w = m.measureText(text).width;
  return {type: 'text', x, y, scaleX: targetW / w, scaleY: 1, silent: true,
    style: {text, fill: color, font, textAlign: align, textVerticalAlign: 'middle'}};
}

const chart = echarts.init(document.getElementById('c'), null, {renderer: 'canvas'});
chart.setOption({
  animation: false,
  backgroundColor: '#fff',
  grid: [G_TOP, G_TOP, G_BOT, G_BOT].map(g => Object.assign({containLabel: false}, g)),
  xAxis, yAxis,
  series: [
    {type: 'scatter', name: 'Redshifts in the literature', xAxisIndex: 0, yAxisIndex: 0, data: lit,
     symbol: 'circle', symbolSize: 4.2, itemStyle: {color: '#000'}, silent: true},
    {type: 'scatter', name: 'New redshifts in this study', xAxisIndex: 0, yAxisIndex: 0, data: nw,
     symbol: 'circle', symbolSize: 5.8, itemStyle: {color: '#ff0000'}, silent: true},
    {type: 'line', name: 'Cluster member galaxies', xAxisIndex: 4, yAxisIndex: 4, step: 'end', data: stepData(memberCounts),
     symbol: 'none', lineStyle: {color: '#000', width: 3}, areaStyle: {color: hatch('#0000ff', '/'), opacity: 1}, silent: true, z: 2},
    {type: 'line', name: 'New redshifts', xAxisIndex: 4, yAxisIndex: 4, step: 'end', data: stepData(newCounts),
     symbol: 'none', lineStyle: {color: '#000', width: 3}, areaStyle: {color: hatch('#ff0000', '\\'), opacity: 1}, silent: true, z: 3},
    {type: 'line', name: 'All redshifts', xAxisIndex: 4, yAxisIndex: 4, step: 'end', data: stepData(allCounts),
     symbol: 'none', lineStyle: {color: '#000', width: 3}, silent: true, z: 4}
  ],
  graphic: [
    {type: 'circle', shape: {cx: 593, cy: 53, r: 4}, style: {fill: '#000'}, silent: true},
    legendText('Redshifts in the literature', 616, 55, '#000', 'left', 515),
    {type: 'circle', shape: {cx: 592, cy: 88, r: 5.5}, style: {fill: '#ff0000'}, silent: true},
    legendText('New redshifts in this study', 616, 89, '#000', 'left', 529),
    legendText('All redshifts', 1139, 562, '#000', 'right', 234),
    legendText('New redshifts in this study', 1139, 600, '#ff0000', 'right', 534),
    legendText('Cluster member galaxies', 1139, 639, '#0000ff', 'right', 486)
  ]
});
</script></body></html>
